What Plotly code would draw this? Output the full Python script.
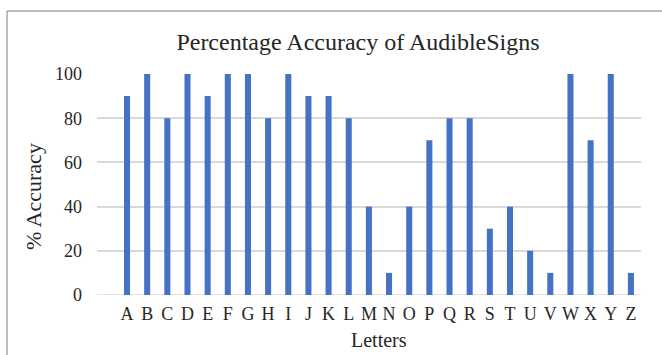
import plotly.graph_objects as go

letters = list("ABCDEFGHIJKLMNOPQRSTUVWXYZ")
accuracy = [90, 100, 80, 100, 90, 100, 100, 80, 100, 90, 90, 80, 40, 10, 40, 70, 80, 80, 30, 40, 20, 10, 100, 70, 100, 10]

W, H = 662, 355
L, R, T, B = 97, 21, 74, 60
pw, ph = W - L - R, H - T - B

fig = go.Figure(go.Bar(x=list(range(len(letters))), y=accuracy, marker_color="#4472C4",
                       width=0.3, marker_line_width=0))

font = "Liberation Serif, Times New Roman, serif"
txt = "#262626"
fig.update_layout(
    width=W, height=H,
    margin=dict(l=L, r=R, t=T, b=B, autoexpand=False),
    paper_bgcolor="white", plot_bgcolor="white",
    font=dict(family=font, color=txt, size=18),
    title=dict(text="Percentage Accuracy of AudibleSigns", x=358 / W, xanchor="center",
               y=1 - 42 / H, yanchor="middle", font=dict(size=24, family=font, color=txt)),
    showlegend=False,
)
fig.update_xaxes(
    tickmode="array", tickvals=list(range(len(letters))), ticktext=letters,
    range=[-1.49, 25.5], showgrid=False, showline=False, zeroline=False, ticks="",
    tickfont=dict(size=18, family=font, color=txt), ticklabelstandoff=6,
)
fig.update_yaxes(
    range=[0, 100], tickvals=[0, 20, 40, 60, 80, 100], showgrid=True, gridcolor="#d9d9d9",
    gridwidth=1.5, zeroline=False, showline=False, ticks="",
    tickfont=dict(size=18, family=font, color=txt), ticklabelstandoff=14,
)
fig.add_shape(type="line", xref="paper", yref="y", x0=0, x1=1, y0=0, y1=0,
              line=dict(color="#d9d9d9", width=1.5), layer="below")
# axis titles
fig.add_annotation(text="Letters", xref="paper", yref="paper",
                   x=(379 - L) / pw, y=-(340 - (H - B)) / ph, xanchor="center", yanchor="middle",
                   showarrow=False, font=dict(size=20, family=font, color=txt))
fig.add_annotation(text="% Accuracy", xref="paper", yref="paper", textangle=-90,
                   x=(33 - L) / pw, y=((H - B) - 197) / ph, xanchor="center", yanchor="middle",
                   showarrow=False, font=dict(size=22, family=font, color=txt))
# outer chart border
fig.add_shape(type="rect", xref="paper", yref="paper",
              x0=(7 - L) / pw, x1=(W + 10 - L) / pw,
              y0=-(H + 10 - (H - B)) / ph, y1=((H - B) - 11) / ph,
              line=dict(color="#7f7f7f", width=1))
fig.write_html("out.html", config={"displayModeBar": False},
               post_script="document.body.style.margin='0';document.body.style.overflow='hidden';")
